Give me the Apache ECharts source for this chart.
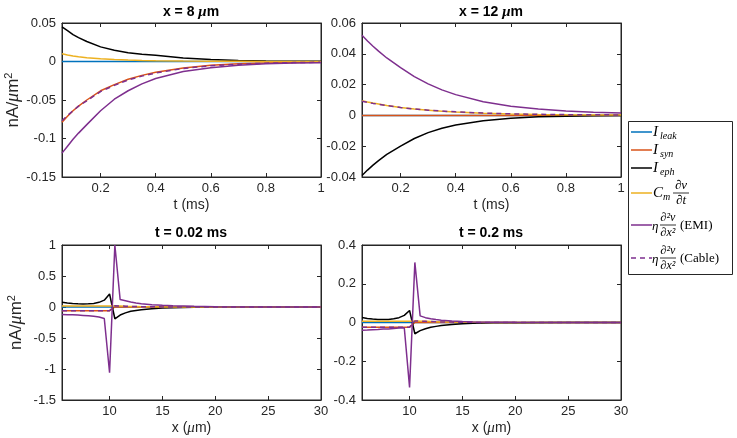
<!DOCTYPE html>
<html>
<head>
<meta charset="utf-8">
<script src="https://cdn.jsdelivr.net/npm/echarts@6/dist/echarts.min.js"></script>
<style>
  html, body { margin: 0; padding: 0; background: #fff; }
  #chart { width: 737px; height: 438px; }
</style>
</head>
<body>
<div id="chart"></div>
<script>
// time axis (ms) for the two upper panels
var tT = [0.06, 0.08, 0.1, 0.12, 0.15, 0.2, 0.25, 0.3, 0.35, 0.4, 0.5, 0.6, 0.7, 0.8, 0.9, 1.0];
// space axis (um) for the two lower panels
var xX = [5.5, 6, 6.5, 7, 7.5, 8, 8.5, 9, 9.5, 10, 10.5, 11, 11.5, 12, 12.5, 13, 14, 15, 16, 18, 20, 25, 30];

var tTicks = [0.2, 0.4, 0.6, 0.8, 1];
var xTicks = [10, 15, 20, 25, 30];

// x = 8 um
var x8Leak  = [0, 0, 0, 0, 0, 0, 0, 0, 0, 0, 0, 0, 0, 0, 0, 0];
var x8Syn   = [-0.079, -0.071, -0.064, -0.058, -0.050, -0.038, -0.030, -0.023, -0.018, -0.014, -0.0085, -0.005, -0.003, -0.002, -0.0012, -0.0008];
var x8Eph   = [0.045, 0.040, 0.035, 0.031, 0.026, 0.019, 0.0145, 0.0115, 0.0095, 0.008, 0.0045, 0.0025, 0.0013, 0.0007, 0.0004, 0.0002];
var x8Cm    = [0.010, 0.0085, 0.0072, 0.0062, 0.005, 0.0035, 0.0025, 0.0018, 0.0013, 0.001, 0.0005, 0.0003, 0.0002, 0.0001, 0, 0];
var x8Emi   = [-0.119, -0.110, -0.101, -0.093, -0.082, -0.064, -0.049, -0.038, -0.029, -0.022, -0.013, -0.008, -0.005, -0.003, -0.002, -0.0015];
var x8Cable = [-0.077, -0.070, -0.064, -0.058, -0.051, -0.039, -0.031, -0.024, -0.019, -0.015, -0.009, -0.0055, -0.0035, -0.0022, -0.0014, -0.001];

// x = 12 um
var x12Leak  = [0, 0, 0, 0, 0, 0, 0, 0, 0, 0, 0, 0, 0, 0, 0, 0];
var x12Syn   = [0, 0, 0, 0, 0, 0, 0, 0, 0, 0, 0, 0, 0, 0, 0, 0];
var x12Eph   = [-0.039, -0.0355, -0.0323, -0.0294, -0.0253, -0.0199, -0.015, -0.0112, -0.0083, -0.0062, -0.0034, -0.0018, -0.0009, -0.0005, -0.0003, -0.0001];
var x12Cm    = [0.0095, 0.0087, 0.008, 0.0074, 0.0065, 0.0051, 0.0041, 0.0034, 0.0027, 0.0022, 0.0014, 0.0009, 0.0006, 0.0004, 0.0003, 0.0002];
var x12Emi   = [0.052, 0.0483, 0.0449, 0.0417, 0.0373, 0.031, 0.0252, 0.0205, 0.0166, 0.0135, 0.0089, 0.006, 0.0041, 0.0029, 0.0021, 0.0016];
var x12Cable = [0.0092, 0.0085, 0.0078, 0.0072, 0.0064, 0.0051, 0.0042, 0.0034, 0.0028, 0.0023, 0.0015, 0.001, 0.0007, 0.0005, 0.0004, 0.0003];

// t = 0.02 ms
var t002Leak  = [0, 0, 0, 0, 0, 0, 0, 0, 0, 0, 0, 0, 0, 0, 0, 0, 0, 0, 0, 0, 0, 0, 0];
var t002Syn   = [-0.06, -0.06, -0.06, -0.06, -0.06, -0.06, -0.06, -0.06, -0.06, -0.06, 0, 0, 0, 0, 0, 0, 0, 0, 0, 0, 0, 0, 0];
var t002Eph   = [0.078, 0.065, 0.057, 0.051, 0.049, 0.051, 0.058, 0.075, 0.11, 0.21, -0.19, -0.13, -0.095, -0.07, -0.055, -0.043, -0.028, -0.018, -0.012, -0.005, -0.002, 0, 0];
var t002Cm    = [0.015, 0.015, 0.015, 0.015, 0.015, 0.015, 0.015, 0.015, 0.015, 0.015, 0.018, 0.015, 0.012, 0.01, 0.008, 0.006, 0.004, 0.002, 0.001, 0.0005, 0, 0, 0];
var t002Emi   = [-0.12, -0.123, -0.127, -0.131, -0.136, -0.142, -0.15, -0.162, -0.185, -1.06, 1.0, 0.12, 0.10, 0.08, 0.065, 0.052, 0.037, 0.027, 0.02, 0.011, 0.006, 0.002, 0.001];
var t002Cable = [-0.06, -0.06, -0.06, -0.06, -0.06, -0.06, -0.06, -0.06, -0.06, -0.06, 0.02, 0.016, 0.013, 0.01, 0.008, 0.006, 0.004, 0.002, 0.001, 0.0005, 0, 0, 0];

// t = 0.2 ms
var t02Leak  = [0, 0, 0, 0, 0, 0, 0, 0, 0, 0, 0, 0, 0, 0, 0, 0, 0, 0, 0, 0, 0, 0, 0];
var t02Syn   = [-0.024, -0.024, -0.024, -0.024, -0.024, -0.024, -0.024, -0.024, -0.024, -0.024, 0, 0, 0, 0, 0, 0, 0, 0, 0, 0, 0, 0, 0];
var t02Eph   = [0.026, 0.021, 0.018, 0.016, 0.015, 0.016, 0.019, 0.025, 0.037, 0.062, -0.058, -0.042, -0.032, -0.025, -0.02, -0.016, -0.01, -0.006, -0.004, -0.0018, -0.0008, -0.0002, 0];
var t02Cm    = [0.006, 0.006, 0.006, 0.006, 0.006, 0.006, 0.006, 0.006, 0.006, 0.006, 0.008, 0.007, 0.006, 0.005, 0.004, 0.003, 0.002, 0.0012, 0.0007, 0.0003, 0.0001, 0, 0];
var t02Emi   = [-0.04, -0.039, -0.037, -0.036, -0.034, -0.033, -0.031, -0.029, -0.027, -0.335, 0.31, 0.034, 0.025, 0.019, 0.015, 0.012, 0.008, 0.005, 0.003, 0.0015, 0.0008, 0.0002, 0];
var t02Cable = [-0.024, -0.024, -0.024, -0.024, -0.024, -0.024, -0.024, -0.024, -0.024, -0.024, 0.008, 0.007, 0.006, 0.005, 0.004, 0.003, 0.002, 0.0012, 0.0007, 0.0003, 0.0001, 0, 0];

var cBlue = '#0072BD', cRed = '#D95319', cBlack = '#000000', cYellow = '#EDB120', cPurple = '#7E2F8E';
var axCol = '#262626';
var sans = '"Liberation Sans", Arial, sans-serif';
var serif = '"Liberation Serif", "DejaVu Serif", serif';

let myChart = echarts.init(document.getElementById('chart'), null, { renderer: 'canvas' });

function pairs(xs, ys) {
    return xs.map(function (x, i) { return [x, ys[i]]; });
}

function mk(name, xs, ys, color, gi, dashed) {
    return {
        name: name,
        type: 'line',
        xAxisIndex: gi,
        yAxisIndex: gi,
        data: pairs(xs, ys),
        showSymbol: false,
        lineStyle: { color: color, width: 1.5, type: dashed ? [5, 4] : 'solid' },
        itemStyle: { color: color },
        animation: false,
        silent: true
    };
}

function panel(gi, xs, d) {
    return [
        mk('leak', xs, d[0], cBlue, gi, false),
        mk('syn', xs, d[1], cRed, gi, false),
        mk('eph', xs, d[2], cBlack, gi, false),
        mk('cm', xs, d[3], cYellow, gi, false),
        mk('emi', xs, d[4], cPurple, gi, false),
        mk('cable', xs, d[5], cPurple, gi, true)
    ];
}

var grids = [
    { left: 62, top: 23, width: 259, height: 154 },
    { left: 362, top: 23, width: 259, height: 154 },
    { left: 62, top: 245, width: 259, height: 155 },
    { left: 362, top: 245, width: 259, height: 155 }
];
grids.forEach(function (g) {
    g.show = true; g.borderColor = axCol; g.borderWidth = 1; g.backgroundColor = '#fff';
});

var nameRich = {
    n: { fontFamily: sans, fontSize: 14, color: axCol },
    i: { fontFamily: serif, fontSize: 15, fontStyle: 'italic', color: axCol },
    N: { fontFamily: sans, fontSize: 17, color: axCol },
    I: { fontFamily: serif, fontSize: 18, fontStyle: 'italic', color: axCol },
    s: { fontFamily: sans, fontSize: 11, color: axCol, padding: [0, 0, 9, 0] }
};

function xAx(gi, min, max, ticks, name) {
    var base = {
        type: 'value', gridIndex: gi, min: min, max: max,
        axisLine: { show: true, onZero: false, lineStyle: { color: axCol, width: 1 } },
        splitLine: { show: false }
    };
    var bottom = Object.assign({}, base, {
        position: 'bottom',
        name: name, nameLocation: 'middle', nameGap: 21,
        nameTextStyle: { rich: nameRich },
        axisTick: { inside: true, length: 4, customValues: ticks, lineStyle: { color: axCol } },
        axisLabel: { customValues: ticks, color: axCol, fontFamily: sans, fontSize: 13, margin: 5 }
    });
    var top = Object.assign({}, base, {
        position: 'top',
        axisTick: { inside: true, length: 4, customValues: ticks, lineStyle: { color: axCol } },
        axisLabel: { show: false }
    });
    return [bottom, top];
}

function yAx(gi, min, max, step, name) {
    var base = {
        type: 'value', gridIndex: gi, min: min, max: max, interval: step,
        axisLine: { show: true, onZero: false, lineStyle: { color: axCol, width: 1 } },
        axisTick: { show: true, inside: true, length: 4, lineStyle: { color: axCol } },
        splitLine: { show: false }
    };
    var left = Object.assign({}, base, {
        position: 'left',
        name: name || '', nameLocation: 'middle', nameGap: 36, nameRotate: 90,
        nameTextStyle: { rich: nameRich },
        axisLabel: { color: axCol, fontFamily: sans, fontSize: 13, margin: 6 }
    });
    var right = Object.assign({}, base, { position: 'right', axisLabel: { show: false } });
    return [left, right];
}

var tName = '{n|t (ms)}';
var xName = '{n|x (}{i|μ}{n|m)}';
var yName = '{N|nA/}{I|μ}{N|m}{s|2}';

var xs0 = xAx(0, 0.06, 1, tTicks, tName), xs1 = xAx(1, 0.06, 1, tTicks, tName);
var xs2 = xAx(2, 5.5, 30, xTicks, xName), xs3 = xAx(3, 5.5, 30, xTicks, xName);
var xa = [xs0[0], xs1[0], xs2[0], xs3[0], xs0[1], xs1[1], xs2[1], xs3[1]];
var ys0 = yAx(0, -0.15, 0.05, 0.05, yName), ys1 = yAx(1, -0.04, 0.06, 0.02, '');
var ys2 = yAx(2, -1.5, 1, 0.5, yName), ys3 = yAx(3, -0.4, 0.4, 0.2, '');
var ya = [ys0[0], ys1[0], ys2[0], ys3[0], ys0[1], ys1[1], ys2[1], ys3[1]];

var titleRich = {
    b: { fontFamily: sans, fontSize: 14, fontWeight: 'bold', color: '#000' },
    m: { fontFamily: serif, fontSize: 15, fontStyle: 'italic', color: '#000' }
};
function ttl(text, cx, top) {
    return { text: text, left: cx, top: top, textAlign: 'center', padding: 0,
        textStyle: { rich: titleRich } };
}

// legend drawn as graphic so the fractions can be stacked
var lg = [];
function gLine(x1, y, x2, color, dashed, w) {
    lg.push({ type: 'line', shape: { x1: x1, y1: y, x2: x2, y2: y },
        style: { stroke: color, lineWidth: w || 1.5, lineDash: dashed ? [5, 4] : null } });
}
function gText(t, x, y, size, italic, align) {
    lg.push({ type: 'text', x: x, y: y,
        style: { text: t, fontFamily: serif, fontSize: size, fontStyle: italic ? 'italic' : 'normal',
            fill: '#000', align: align || 'left', verticalAlign: 'middle' } });
}
lg.push({ type: 'rect', shape: { x: 628.5, y: 121.5, width: 104, height: 153 },
    style: { fill: '#fff', stroke: axCol, lineWidth: 1 } });
gLine(631, 132, 652, cBlue); gText('I', 653, 132, 15, true); gText('leak', 660, 136, 10, true);
gLine(631, 150, 652, cRed); gText('I', 653, 150, 15, true); gText('syn', 660, 154, 10, true);
gLine(631, 168, 652, cBlack); gText('I', 653, 168, 15, true); gText('eph', 660, 172, 10, true);
gLine(631, 193, 652, cYellow); gText('C', 653, 193, 15, true); gText('m', 663, 197, 10, true);
gText('∂v', 681, 186, 13, true, 'center'); gLine(673, 193, 689, '#000', false, 0.8); gText('∂t', 681, 200.5, 13, true, 'center');
gLine(631, 225, 652, cPurple); gText('η', 652, 227, 13, true);
gText('∂²v', 668, 218, 12, true, 'center'); gLine(660, 225, 676, '#000', false, 0.8); gText('∂x²', 668, 233, 12, true, 'center');
gText('(EMI)', 680, 226, 13, false);
gLine(631, 258, 652, cPurple, true); gText('η', 652, 260, 13, true);
gText('∂²v', 668, 251, 12, true, 'center'); gLine(660, 258, 676, '#000', false, 0.8); gText('∂x²', 668, 266, 12, true, 'center');
gText('(Cable)', 680, 259, 13, false);

var series = [].concat(
    panel(0, tT, [x8Leak, x8Syn, x8Eph, x8Cm, x8Emi, x8Cable]),
    panel(1, tT, [x12Leak, x12Syn, x12Eph, x12Cm, x12Emi, x12Cable]),
    panel(2, xX, [t002Leak, t002Syn, t002Eph, t002Cm, t002Emi, t002Cable]),
    panel(3, xX, [t02Leak, t02Syn, t02Eph, t02Cm, t02Emi, t02Cable])
);

let option = {
    backgroundColor: '#fff',
    animation: false,
    title: [
        ttl('{b|x = 8 }{m|μ}{b|m}', 191, 5),
        ttl('{b|x = 12 }{m|μ}{b|m}', 491, 5),
        ttl('{b|t = 0.02 ms}', 191, 226),
        ttl('{b|t = 0.2 ms}', 491, 226)
    ],
    grid: grids,
    xAxis: xa,
    yAxis: ya,
    series: series,
    graphic: lg
};
myChart.setOption(option);
</script>
</body>
</html>
